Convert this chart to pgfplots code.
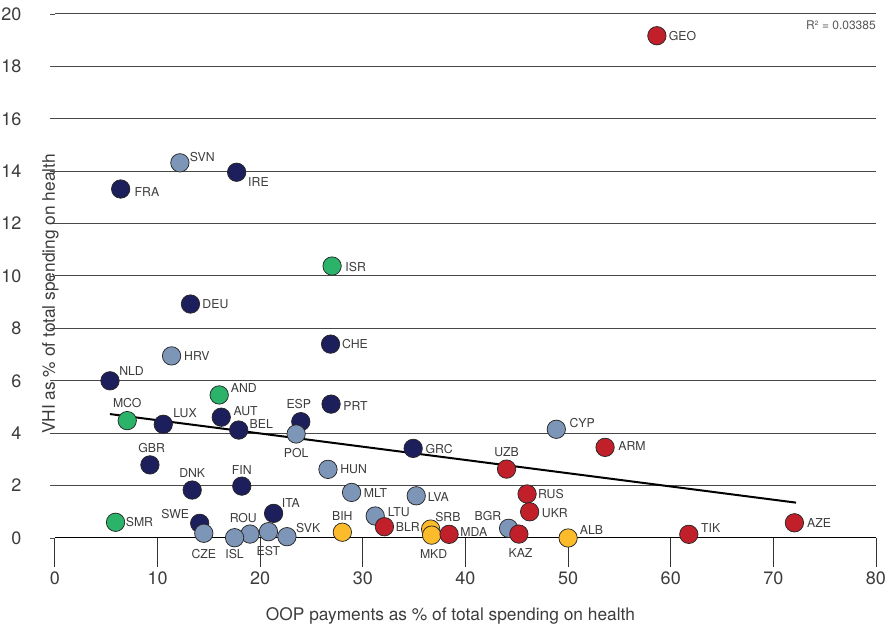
\documentclass[border=0pt]{standalone}
\usepackage{pgfplots}
\usepackage{pgfplotstable}
\pgfplotsset{compat=1.18}
\usepackage{fontspec}
\setmainfont{TeX Gyre Heros}
\definecolor{navy}{HTML}{1D1F5C}
\definecolor{ltblue}{HTML}{7D95B7}
\definecolor{grn}{HTML}{2BB36A}
\definecolor{rd}{HTML}{C1202B}
\definecolor{yel}{HTML}{FCBB2A}
\definecolor{txt}{HTML}{3C3C3C}

% lab = name:align:dx:dy  (offsets of the label from the dot, in px)
\pgfplotstableread{
x y lab
6.40 13.32 FRA:l:14:-2.7
17.70 13.96 IRE:l:11.6:-9.4
13.20 8.93 DEU:l:12:0
26.85 7.40 CHE:l:11.6:0
5.36 6.00 NLD:l:9.3:10
10.55 4.34 LUX:l:10:11
16.20 4.61 AUT:l:12.3:6.6
17.90 4.12 BEL:l:11:5.7
23.95 4.44 ESP:c:-2:17.7
26.90 5.11 PRT:l:12.3:-2
34.90 3.42 GRC:l:12.4:-1
9.25 2.79 GBR:c:1.7:16.7
13.37 1.83 DNK:c:0:17.3
18.20 1.98 FIN:c:0:16
14.10 0.56 SWE:r:-10.7:9.3
21.30 0.94 ITA:l:8.4:10.6
}\navytab

\pgfplotstableread{
x y lab
12.17 14.32 SVN:l:10:6
11.36 6.95 HRV:l:12.6:0
23.50 3.97 POL:c:0:-18.7
48.85 4.15 CYP:l:13.3:6
26.60 2.62 HUN:l:12.4:0
28.90 1.74 MLT:l:12.3:-1
35.20 1.61 LVA:l:11.6:-1
31.20 0.84 LTU:l:12.6:4.3
14.50 0.18 CZE:c:0:-20.7
19.00 0.15 ROU:c:-6.7:16.3
17.50 0.01 ISL:c:0:-16.3
20.80 0.24 EST:c:0:-19.3
22.60 0.05 SVK:l:9.3:8.4
44.20 0.37 BGR:r:-7.3:12.6
}\bluetab

\pgfplotstableread{
x y lab
27.00 10.38 ISR:l:13.4:-1
16.00 5.46 AND:l:11.7:6.7
7.04 4.48 MCO:c:0:17.4
5.90 0.60 SMR:l:10.3:0
}\greentab

\pgfplotstableread{
x y lab
28.00 0.22 BIH:c:0:16.3
36.60 0.34 SRB:l:4.7:12.3
36.70 0.11 MKD:c:2:-19
50.00 0.00 ALB:l:11.7:7.6
}\yellowtab

\pgfplotstableread{
x y lab
58.65 19.17 GEO:l:12:0
53.60 3.46 ARM:l:13.3:1.3
44.00 2.63 UZB:c:0:16.7
46.00 1.68 RUS:l:11:0
46.25 1.00 UKR:l:12.3:-1.6
32.10 0.43 BLR:l:11.4:0
38.40 0.14 MDA:l:11.4:2.6
45.20 0.15 KAZ:c:1.7:-18.7
61.76 0.14 TIK:l:12.4:6
72.05 0.58 AZE:l:12.7:0
}\redtab

\newdimen\lbpx \lbpx=0.75pt
\def\parselbl#1:#2:#3:#4\end{\hspace*{#3\lbpx}\makebox[0pt][#2]{\raisebox{\dimexpr #4\lbpx-3.3pt\relax}{#1}}\hspace*{-#3\lbpx}}
\newcommand\countrylabel{\edef\lbtmp{\pgfplotspointmeta}\expandafter\parselbl\lbtmp\end}

\pgfplotsset{
  countrydots/.style={only marks, mark=*, mark size=6.9pt,
    mark options={fill=#1, draw=black!85, line width=0.55pt},
    point meta=explicit symbolic,
    nodes near coords={\countrylabel},
    every node near coord/.append style={anchor=base, inner sep=0pt,
       font=\fontsize{9.2}{10}\selectfont, text=txt}},
}

\begin{document}
\begin{tikzpicture}
\begin{axis}[
  name=ax,
  scale only axis, width=615.75pt, height=393pt,
  xmin=0, xmax=80, ymin=0, ymax=20,
  axis x line=bottom, axis y line=left,
  x axis line style={-, black, line width=0.75pt},
  y axis line style={draw=none},
  xtick={0,10,...,80}, ytick={0,2,...,20},
  minor ytick={0,2,...,20},
  tick align=outside,
  major tick length=21.75pt, minor tick length=3.5pt,
  xtick style={draw=black!80, line width=0.75pt},
  every major y tick/.style={draw=none},
  every minor y tick/.style={draw=black!70, line width=0.6pt},
  ymajorgrids, major grid style={draw=black!72, line width=0.75pt},
  /pgf/number format/assume math mode=true,
  tick label style={font=\fontsize{13.5}{15}\selectfont, text=txt},
  xlabel={OOP payments as \% of total spending on health},
  ylabel={VHI as \% of total spending on health},
  xlabel style={at={(axis description cs:0.4817,0)}, anchor=base, yshift=-62.25pt,
     font=\fontsize{13}{15}\selectfont, text=txt},
  ylabel style={at={(axis description cs:0,0.523)}, anchor=base, xshift=-22.5pt,
     font=\fontsize{13}{15}\selectfont, text=txt},
  clip=false,
]
\addplot[black, line width=1.5pt] coordinates {(5.36,4.73) (72.2,1.35)};
\addplot[countrydots=navy] table[x=x, y=y, meta=lab] {\navytab};
\addplot[countrydots=ltblue] table[x=x, y=y, meta=lab] {\bluetab};
\addplot[countrydots=grn] table[x=x, y=y, meta=lab] {\greentab};
\addplot[countrydots=yel] table[x=x, y=y, meta=lab] {\yellowtab};
\addplot[countrydots=rd] table[x=x, y=y, meta=lab] {\redtab};
\node[anchor=north east, inner sep=0pt, font=\fontsize{9}{10}\selectfont, text=black!65]
  at (rel axis cs:1,1) [yshift=-4.5pt] {R² = 0.03385};
\end{axis}
\pgfresetboundingbox
\path (ax.south west) ++(-41.25pt,-65.25pt) rectangle ++(667.5pt,468.75pt);
\end{tikzpicture}
\end{document}
